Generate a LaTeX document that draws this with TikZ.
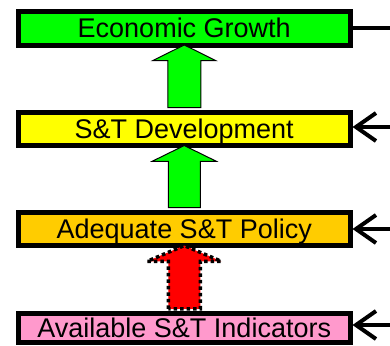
\documentclass[tikz,border=0pt]{standalone}
\usepackage{fontspec}
\setmainfont{Liberation Sans}
\usetikzlibrary{arrows.meta,calc}
\definecolor{egreen}{HTML}{00FF00}
\definecolor{dyellow}{HTML}{FFFF00}
\definecolor{porange}{HTML}{FFCC00}
\definecolor{ipink}{HTML}{FF99CC}
\definecolor{ared}{HTML}{FF0000}
\newcommand\blockarrow[5]{% style, from, to, shaft half, head half
  \path[#1] let \p1=(#2.north), \p2=(#3.south) in
    (\x1-#4,\y1+2pt) -- (\x1-#4,\y2-13pt) -- (\x1-#5,\y2-13pt) -- (\x1,\y2+2.7pt)
    -- (\x1+#5,\y2-13pt) -- (\x1+#4,\y2-13pt) -- (\x1+#4,\y1+2pt) -- cycle;}
\tikzset{
  box/.style={draw=black, line width=5pt, rectangle, inner sep=0pt,
    minimum width=331.5pt, minimum height=33.7pt,
    font=\fontsize{27}{30}\selectfont, text height=19.3pt, text depth=0pt},
  garrow/.style={fill=egreen, draw=black, line width=1pt},
  rarrow/.style={fill=ared, draw=black, line width=3.5pt, dash pattern=on 3.5pt off 3pt},
  conn/.style={draw=black, line width=4pt},
  barb/.style={conn, -{Straight Barb[length=20pt,width=28pt]}}
}
\begin{document}
\begin{tikzpicture}[x=1pt,y=-1pt]
\useasboundingbox (0,0) rectangle (390,345);
\node[box, fill=egreen] (eg) at (184.25,28.3) {Economic Growth};
\node[box, fill=dyellow] (dev) at (184.25,128.9) {S\&T Development};
\node[box, fill=porange] (pol) at (184.25,228.9) {Adequate S\&T Policy};
\node[box, fill=ipink, minimum height=29.3pt] (ind) at (184.25,327.9) {Available S\&T Indicators};
\blockarrow{garrow}{dev}{eg}{16.5pt}{31.5pt}
\blockarrow{garrow}{pol}{dev}{16pt}{32pt}
\blockarrow{rarrow}{ind}{pol}{16pt}{37pt}
\coordinate (r1) at (390,28);
\coordinate (r2) at (390,127);
\coordinate (r3) at (390,229);
\coordinate (r4) at (390,325);
\draw[conn] (eg.east |- r1) -- (r1);
\draw[barb] (r2) -- (dev.east |- r2);
\draw[barb] (r3) -- (pol.east |- r3);
\draw[barb] (r4) -- (ind.east |- r4);
\end{tikzpicture}
\end{document}
